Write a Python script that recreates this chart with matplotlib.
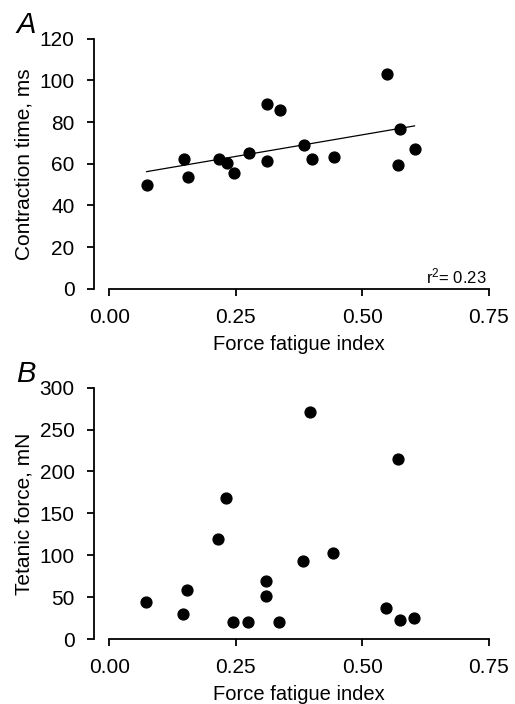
import numpy as np
import matplotlib
matplotlib.use("Agg")
import matplotlib.pyplot as plt

plt.rcParams['font.family'] = ['Liberation Sans', 'DejaVu Sans']
plt.rcParams['mathtext.fontset'] = 'custom'
plt.rcParams['mathtext.rm'] = 'Liberation Sans'

# == Data == #
fatigue = [0.074, 0.147, 0.155, 0.217, 0.232, 0.247, 0.276, 0.312, 0.312,
           0.337, 0.385, 0.400, 0.443, 0.549, 0.574, 0.570, 0.603]
contraction = [49.8, 62.3, 53.8, 62.3, 60.2, 55.4, 65.0, 88.8, 61.3,
               85.9, 68.8, 62.3, 63.2, 103.1, 76.6, 59.4, 67.1]

fatigue_b = [0.073, 0.146, 0.153, 0.214, 0.230, 0.245, 0.274, 0.310, 0.310,
             0.336, 0.383, 0.397, 0.441, 0.547, 0.570, 0.574, 0.602]
tetanic = [43.8, 29.8, 58.1, 119, 168.3, 20.3, 20.3, 69.6, 51,
           20.3, 93.1, 271, 102.7, 36.6, 214.9, 22.7, 25.1]

xticks = [0.0, 0.25, 0.5, 0.75]
xticklabels = ['0.00', '0.25', '0.50', '0.75']
r2_text = r'$\mathregular{r^2}$= 0.23'

fs = 15


def style(ax, ylim, yticks):
    ax.set_xlim(-0.03, 0.75)
    ax.set_ylim(*ylim)
    ax.spines['top'].set_visible(False)
    ax.spines['right'].set_visible(False)
    ax.spines['bottom'].set_bounds(0, 0.75)
    for s in ('left', 'bottom'):
        ax.spines[s].set_linewidth(1.3)
    ax.set_xticks(xticks)
    ax.set_xticklabels(xticklabels)
    ax.set_yticks(yticks)
    ax.tick_params(direction='out', length=5, width=1.3, pad=9, labelsize=fs)
    ax.set_xlabel('Force fatigue index', fontsize=14.5)
    ax.xaxis.set_label_coords(0.519, -0.183)


fig = plt.figure(figsize=(5.15, 7.04), dpi=100)

# == Panel A == #
ax = fig.add_axes([0.1825, 0.5895, 0.767, 0.3558])
x = np.array(fatigue)
y = np.array(contraction)
ax.plot(x, y, 'o', color='black', ms=7.8, mec='black')
slope, icpt = np.polyfit(x, y, 1)
xl = np.array([x.min(), x.max()])
ax.plot(xl, icpt + slope * xl, color='black', lw=0.9)
style(ax, (0, 120), range(0, 121, 20))
ax.set_ylabel('Contraction time, ms', fontsize=fs, labelpad=4)
ax.text(0.745, 2.5, r2_text, fontsize=12, ha='right', va='baseline')
fig.text(0.031, 0.953, 'A', fontsize=21, style='italic')

# == Panel B == #
ax = fig.add_axes([0.1825, 0.0923, 0.767, 0.357])
ax.plot(fatigue_b, tetanic, 'o', color='black', ms=7.8, mec='black')
style(ax, (0, 300), range(0, 301, 50))
ax.set_ylabel('Tetanic force, mN', fontsize=fs, labelpad=4)
fig.text(0.031, 0.4578, 'B', fontsize=21, style='italic')

fig.savefig('out.png', dpi=100)
